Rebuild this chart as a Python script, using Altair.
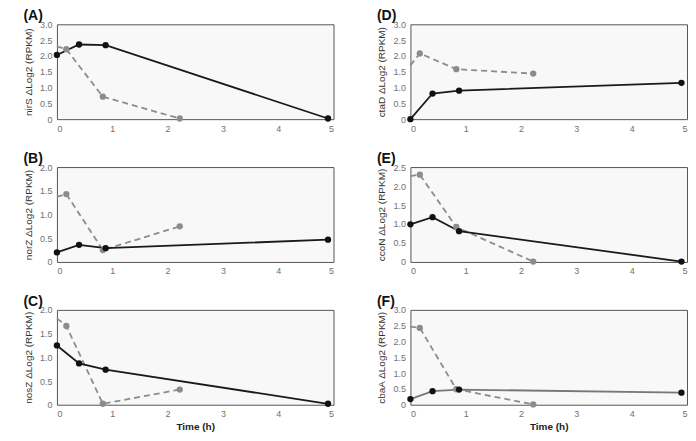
import altair as alt
import pandas as pd

times_solid = [0, 0.4, 0.88, 4.9]
times_dashed = [0, 0.17, 0.83, 2.22]
dashed_marker = [False, True, True, True]

A_solid = [2.03, 2.36, 2.34, 0.02]
A_dashed = [2.30, 2.21, 0.71, 0.02]
B_solid = [0.20, 0.36, 0.29, 0.47]
B_dashed = [1.37, 1.43, 0.25, 0.75]
C_solid = [1.25, 0.87, 0.74, 0.02]
C_dashed = [1.82, 1.66, 0.02, 0.32]
D_solid = [0.0, 0.81, 0.90, 1.15]
D_dashed = [1.70, 2.08, 1.58, 1.44]
E_solid = [0.99, 1.18, 0.81, 0.01]
E_dashed = [2.26, 2.30, 0.92, 0.01]
F_solid = [0.18, 0.43, 0.48, 0.38]
F_dashed = [2.47, 2.43, 0.49, 0.01]

x_ticks = [0, 1, 2, 3, 4, 5]

W = 277
H = 95
FONT = "Liberation Sans"


def panel(label, gene, solid, dashed, ymax, show_xtitle, solid_color="#1a1a1a"):
    df_s = pd.DataFrame({"t": times_solid, "v": solid})
    df_d = pd.DataFrame({"t": times_dashed, "v": dashed, "marker": dashed_marker})
    yvals = [i * 0.5 for i in range(int(round(ymax / 0.5)) + 1)]
    xaxis = alt.Axis(values=x_ticks, title="Time (h)" if show_xtitle else None,
                     titleFontWeight="bold", titlePadding=3, titleColor="#222")
    x = alt.X("t:Q", scale=alt.Scale(domain=[0, 5], nice=False), axis=xaxis)
    y = alt.Y("v:Q", scale=alt.Scale(domain=[0, ymax], nice=False),
              axis=alt.Axis(values=yvals, title=f"{gene} ΔLog2 (RPKM)",
                            labelExpr="datum.value == 0 ? '0' : format(datum.value, '.1f')"))
    dl = alt.Chart(df_d).mark_line(color="#8c8c8c", strokeDash=[6, 4], strokeWidth=1.8).encode(x=x, y=y)
    dp = alt.Chart(df_d).transform_filter("datum.marker").mark_circle(
        size=40, color="#8c8c8c", opacity=1).encode(x=x, y=y)
    sl = alt.Chart(df_s).mark_line(color=solid_color, strokeWidth=1.8).encode(x=x, y=y)
    sp = alt.Chart(df_s).mark_circle(size=40, color="#111111", opacity=1).encode(x=x, y=y)
    return alt.layer(dl, sl, dp, sp).properties(
        width=W, height=H,
        title=alt.TitleParams(label, anchor="start", frame="bounds", fontSize=14,
                              fontWeight="bold", font=FONT, color="#111", offset=-3),
    )


row1 = alt.hconcat(panel("(A)", "nirS", A_solid, A_dashed, 3.0, False),
                   panel("(D)", "ctaD", D_solid, D_dashed, 3.0, False), spacing=41)
row2 = alt.hconcat(panel("(B)", "norZ", B_solid, B_dashed, 2.0, False),
                   panel("(E)", "ccoN", E_solid, E_dashed, 2.5, False), spacing=41)
row3 = alt.hconcat(panel("(C)", "nosZ", C_solid, C_dashed, 2.0, True),
                   panel("(F)", "cbaA", F_solid, F_dashed, 3.0, True, solid_color="#777777"), spacing=41)

chart = alt.vconcat(row1, row2, row3, spacing=17).properties(
    padding={"left": 14, "top": 0, "right": 0, "bottom": 0}
).configure_view(
    fill="#f8f8f8", stroke="#555555", strokeWidth=1
).configure_axis(
    grid=False, domain=False, ticks=False,
    labelFont=FONT, labelFontSize=9, labelColor="#707070", labelPadding=5,
    titleFont=FONT, titleFontSize=10, titleFontWeight="normal", titleColor="#333333",
    titlePadding=6,
).configure_concat(spacing=17)

chart.save("out.html", embed_options={"renderer": "svg", "actions": False})
